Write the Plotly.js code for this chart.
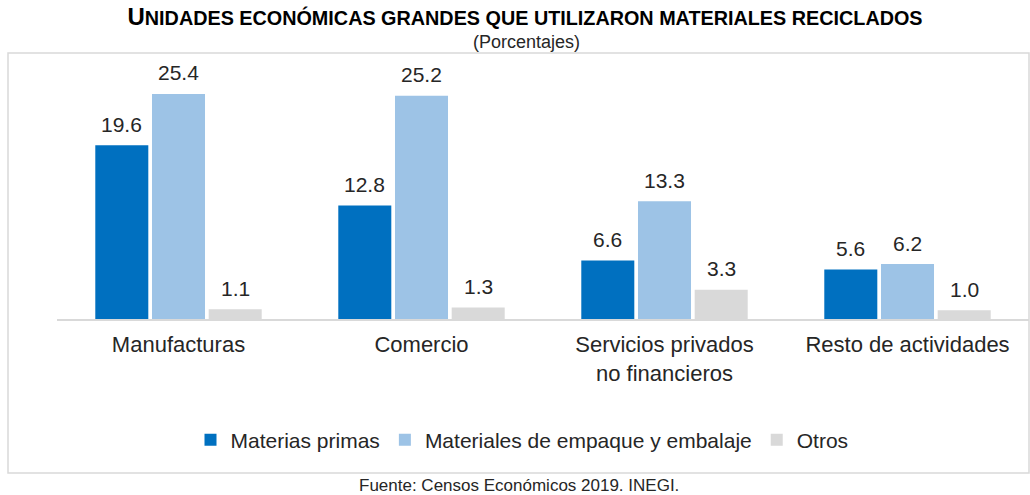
<!DOCTYPE html>
<html>
<head>
<meta charset="utf-8">
<script src="https://cdn.plot.ly/plotly-3.0.1.min.js"></script>
<style>html,body{margin:0;padding:0;background:#fff;}#chart{width:1030px;height:495px;}</style>
</head>
<body>
<div id="chart"></div>
<script>
const categories = ["Manufacturas", "Comercio", "Servicios privados<br>no financieros", "Resto de actividades"];
const seriesNames = ["Materias primas", "Materiales de empaque y embalaje", "Otros"];
const materiasPrimas = [19.6, 12.8, 6.6, 5.6];
const empaqueEmbalaje = [25.4, 25.2, 13.3, 6.2];
const otros = [1.1, 1.3, 3.3, 1.0];
const colors = ["#0070C0", "#9DC3E6", "#D9D9D9"];

const seriesValues = [materiasPrimas, empaqueEmbalaje, otros];
const bargap = 0.30;
const FONT = "Liberation Sans, Arial, sans-serif";
const TXT = "#262626";

const traces = seriesValues.map((vals, k) => ({
  type: "bar",
  name: seriesNames[k],
  x: categories,
  y: vals,
  marker: {color: colors[k], line: {width: 0}},
  hoverinfo: "y"
}));

const annotations = [];
seriesValues.forEach((vals, k) => {
  vals.forEach((v, i) => {
    annotations.push({
      x: i + (k - 1) * (1 - bargap) / 3,
      y: v,
      xref: "x", yref: "y",
      text: v.toFixed(1),
      showarrow: false,
      yanchor: "middle",
      yshift: 21,
      font: {family: FONT, size: 21, color: TXT}
    });
  });
});

annotations.push({
  xref: "paper", yref: "paper",
  x: (526 - 57) / 972, y: (319 - 42) / 259,
  text: "(Porcentajes)", showarrow: false,
  xanchor: "center", yanchor: "middle",
  font: {family: FONT, size: 18, color: TXT}
});
annotations.push({
  xref: "paper", yref: "paper",
  x: (519 - 57) / 972, y: (319 - 485) / 259,
  text: "Fuente: Censos Económicos 2019. INEGI.", showarrow: false,
  xanchor: "center", yanchor: "middle",
  font: {family: FONT, size: 17, color: TXT}
});

const layout = {
  width: 1030, height: 495,
  margin: {l: 57, r: 1, t: 60, b: 176},
  paper_bgcolor: "#fff", plot_bgcolor: "#fff",
  title: {
    text: "<b><span style='font-size:24px'>U</span>NIDADES ECONÓMICAS GRANDES QUE UTILIZARON MATERIALES RECICLADOS</b>",
    font: {family: FONT, size: 19.8, color: "#000"},
    x: 525 / 1030, xref: "container", xanchor: "center",
    y: 1 - 18 / 495, yref: "container", yanchor: "middle"
  },
  barmode: "group",
  bargap: bargap,
  bargroupgap: 0.065,
  xaxis: {
    showline: true, linecolor: "#D9D9D9", linewidth: 1.5,
    showgrid: false, zeroline: false, ticks: "",
    tickfont: {family: FONT, size: 22, color: TXT},
    ticklabelstandoff: 5
  },
  yaxis: {
    range: [0, 29.23], visible: false, showgrid: false, zeroline: false
  },
  showlegend: true,
  legend: {
    orientation: "h",
    x: (522 - 57) / 972, xanchor: "center",
    y: (319 - 440) / 259, yanchor: "middle",
    font: {family: FONT, size: 21, color: TXT},
    itemwidth: 30, traceorder: "normal"
  },
  annotations: annotations,
  shapes: [{
    type: "rect", xref: "paper", yref: "paper",
    x0: (8 - 57) / 972, x1: (1029 - 57) / 972,
    y0: (319 - 473) / 259, y1: (319 - 53) / 259,
    line: {color: "#D9D9D9", width: 1.5}, fillcolor: "rgba(0,0,0,0)", layer: "below"
  }]
};

Plotly.newPlot("chart", traces, layout, {displayModeBar: false, staticPlot: true});
</script>
</body>
</html>
